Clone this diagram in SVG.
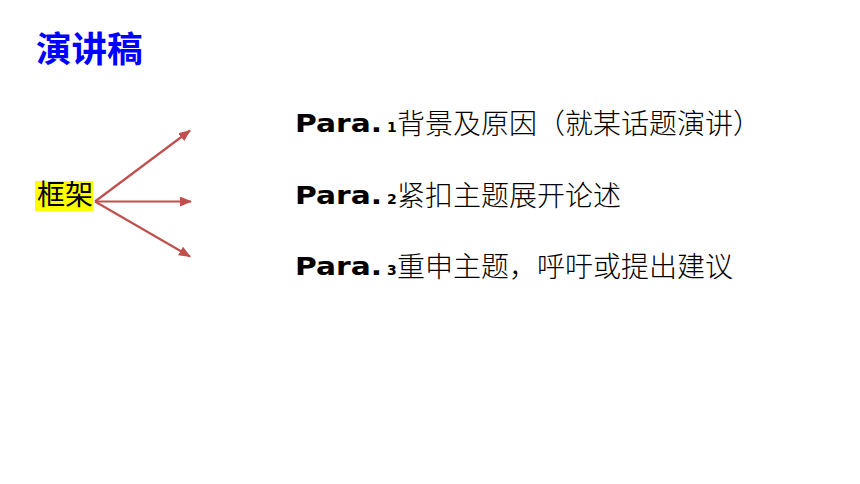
<svg xmlns="http://www.w3.org/2000/svg" width="860" height="484" viewBox="0 0 860 484">
<style>
.title{font-family:"Noto Sans CJK SC",sans-serif;font-size:35.5px;font-weight:bold;fill:#0000ff}
.cn{font-family:"Noto Sans CJK SC",sans-serif;font-size:28px;font-weight:300;fill:#000}
.para{font-family:"DejaVu Sans","Liberation Sans",sans-serif;font-size:25px;font-weight:bold;fill:#000}
.num{font-family:"DejaVu Sans","Liberation Sans",sans-serif;font-size:14px;font-weight:bold;fill:#000}
.arrow{stroke:#c0504d;stroke-width:2.2;fill:none}
</style>
<defs>
<marker id="ah" markerUnits="userSpaceOnUse" markerWidth="12" markerHeight="10" refX="11" refY="5" orient="auto">
<path d="M0,0 L12,5 L0,10 z" fill="#c0504d"/>
</marker>
</defs>
<rect width="860" height="484" fill="#fff"/>
<g id="title"><text class="title" x="36" y="62">演讲稿</text></g>
<g id="frame">
<rect x="35" y="181" width="58" height="30" fill="#ffff00"/>
<text class="cn" x="37" y="205" style="font-size:28px;font-weight:normal">框架</text>
</g>
<g id="connectors">
<line class="arrow" x1="95" y1="201.5" x2="190" y2="130.5" marker-end="url(#ah)"/>
<line class="arrow" x1="95" y1="201.5" x2="191" y2="201.5" marker-end="url(#ah)"/>
<line class="arrow" x1="95" y1="201.5" x2="190" y2="256.5" marker-end="url(#ah)"/>
</g>
<g id="para1">
<text class="para" x="295" y="132" textLength="87" lengthAdjust="spacingAndGlyphs">Para.</text>
<text class="num" x="387" y="132">1</text>
<text class="cn" x="397" y="134">背景及原因（就某话题演讲）</text>
</g>
<g id="para2">
<text class="para" x="295" y="204" textLength="87" lengthAdjust="spacingAndGlyphs">Para.</text>
<text class="num" x="387" y="204">2</text>
<text class="cn" x="397" y="206">紧扣主题展开论述</text>
</g>
<g id="para3">
<text class="para" x="295" y="275" textLength="87" lengthAdjust="spacingAndGlyphs">Para.</text>
<text class="num" x="387" y="275">3</text>
<text class="cn" x="397" y="277">重申主题，呼吁或提出建议</text>
</g>
</svg>
